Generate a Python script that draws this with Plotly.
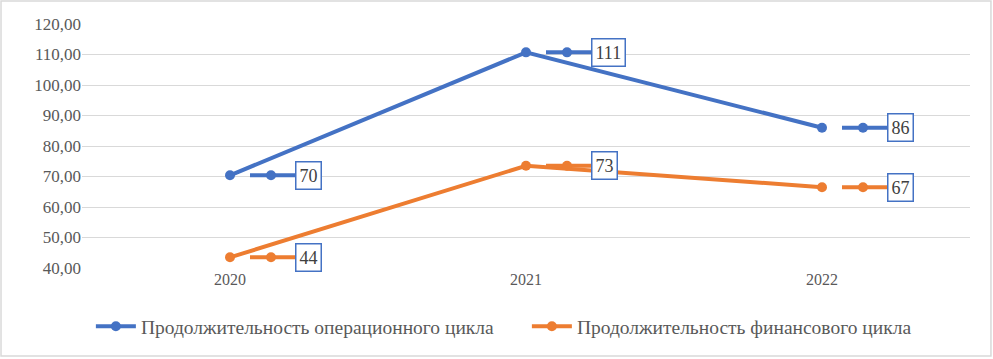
import plotly.graph_objects as go

years = ["2020", "2021", "2022"]
operating_cycle = [70.4, 110.7, 86.0]
financial_cycle = [43.5, 73.5, 66.5]
label_operating = ["70", "111", "86"]
label_financial = ["44", "73", "67"]
series_names = ["Продолжительность операционного цикла", "Продолжительность финансового цикла"]
yticks = [40, 50, 60, 70, 80, 90, 100, 110, 120]

BLUE = "#4472C4"
ORANGE = "#ED7D31"
FONT = "Liberation Serif"

xs = list(range(len(years)))
fig = go.Figure()
for name, vals, col in [(series_names[0], operating_cycle, BLUE), (series_names[1], financial_cycle, ORANGE)]:
    fig.add_trace(go.Scatter(x=xs, y=vals, name=name, mode="lines+markers",
                             line=dict(color=col, width=4), marker=dict(color=col, size=10)))

shapes = []
annotations = []
for vals, labels, col in [(operating_cycle, label_operating, BLUE), (financial_cycle, label_financial, ORANGE)]:
    for xi, v, lab in zip(xs, vals, labels):
        shapes.append(dict(type="line", xref="x", yref="y", xsizemode="pixel", ysizemode="pixel",
                           xanchor=xi, yanchor=v, x0=20, x1=65, y0=0, y1=0,
                           line=dict(color=col, width=4)))
        shapes.append(dict(type="circle", xref="x", yref="y", xsizemode="pixel", ysizemode="pixel",
                           xanchor=xi, yanchor=v, x0=36, x1=46, y0=-5, y1=5,
                           fillcolor=col, line=dict(color=col, width=0)))
        annotations.append(dict(x=xi, y=v, xref="x", yref="y", text=lab, showarrow=False,
                                xanchor="left", yanchor="middle", xshift=65,
                                bordercolor=BLUE, borderwidth=1.5, borderpad=3, bgcolor="white",
                                font=dict(family=FONT, size=18, color="#404040")))

shapes.append(dict(type="rect", xref="paper", yref="paper", x0=-0.0912, x1=1.0236, y0=-0.3607, y1=1.094,
                   line=dict(color="#D9D9D9", width=1.5), layer="below"))

fig.update_layout(
    width=993, height=359,
    margin=dict(l=82, r=23, t=24, b=91),
    paper_bgcolor="white", plot_bgcolor="white",
    separators=",.",
    font=dict(family=FONT, size=16, color="#595959"),
    xaxis=dict(tickvals=xs, ticktext=years, range=[-0.5, 2.5], showgrid=False, zeroline=False,
               showline=False, ticks="", tickfont=dict(family=FONT, size=16, color="#595959")),
    yaxis=dict(range=[40, 120], tickvals=yticks, tickformat=".2f", showgrid=True, gridcolor="#D9D9D9",
               gridwidth=1, zeroline=False, showline=False, ticks="", ticklen=14, tickcolor="white",
               tickfont=dict(family=FONT, size=17, color="#595959")),
    legend=dict(orientation="h", x=0.01, xanchor="left", y=-0.24, yanchor="middle",
                font=dict(family=FONT, size=19.5, color="#595959"), itemwidth=40, tracegroupgap=0,
                entrywidth=381, entrywidthmode="pixels"),
    shapes=shapes, annotations=annotations,
    showlegend=True,
)
fig.write_html("out.html", post_script="document.body.style.margin='0px';",
               config={"displayModeBar": False})
